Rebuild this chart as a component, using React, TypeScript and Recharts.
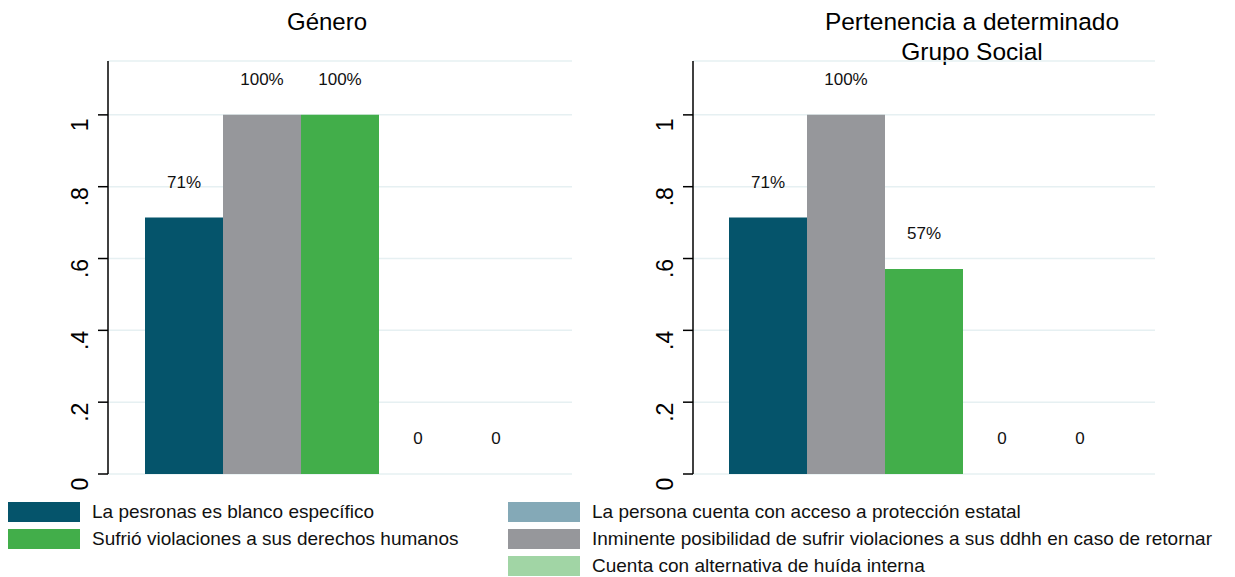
import { BarChart, Bar, XAxis, YAxis, CartesianGrid } from 'recharts'

const SERIES = [
  'La pesronas es blanco específico',
  'Inminente posibilidad de sufrir violaciones a sus ddhh en caso de retornar',
  'Sufrió violaciones a sus derechos humanos',
  'La persona cuenta con acceso a protección estatal',
  'Cuenta con alternativa de huída interna',
]
const COLORS = ['#05546b', '#96979b', '#42ae4a', '#84a9b7', '#a1d5a5']

const GENERO = [0.714, 1, 1, 0, 0]
const GRUPO_SOCIAL = [0.714, 1, 0.571, 0, 0]

const Y_TICKS = [0, 0.2, 0.4, 0.6, 0.8, 1]

// legend layout: [series index] per column
const LEGEND_LEFT = [0, 2]
const LEGEND_RIGHT = [3, 1, 4]

const FONT = '"Liberation Sans", Arial, Helvetica, sans-serif'

const toRow = (values: number[]) => {
  const row: Record<string, number | string> = { name: 'g' }
  values.forEach((v, i) => { row['s' + i] = v })
  return [row]
}

const fmtTick = (v: number) => (v === 0 ? '0' : v === 1 ? '1' : String(v).replace(/^0/, ''))
const fmtPct = (v: number) => (v === 0 ? '0' : `${Math.round(v * 100)}%`)

// stata draws the rotated labels a bit below the tick
const RotTick = (props: any) => {
  const { x, y, payload } = props
  const cx = x - 16
  const cy = y + 10
  return (
    <text x={cx} y={cy} transform={`rotate(-90 ${cx} ${cy})`} textAnchor="middle"
      dominantBaseline="central" fontSize={23} fill="#000" fontFamily={FONT}>
      {fmtTick(payload.value)}
    </text>
  )
}

const renderLabel = (p: any) => {
  const { x, y, width, height, value } = p
  const top = Math.min(y, y + (height || 0))
  return (
    <text x={x + width / 2} y={top - 35} textAnchor="middle" dominantBaseline="central"
      fontSize={17} fill="#111" fontFamily={FONT}>
      {fmtPct(Number(value))}
    </text>
  )
}

function Panel({ values, width, yAxisWidth, right }: { values: number[]; width: number; yAxisWidth: number; right: number }) {
  return (
    <BarChart width={width} height={490} data={toRow(values)}
      margin={{ top: 61, right, left: 0, bottom: 16 }} barGap={0} barSize={78}>
      <CartesianGrid vertical={false} stroke="#e6f0f2" strokeWidth={1.5} />
      <XAxis dataKey="name" tick={false} tickLine={false} height={0}
        axisLine={{ stroke: '#000', strokeWidth: 1.5 }} />
      <YAxis domain={[0, 1.15]} ticks={Y_TICKS} width={yAxisWidth} tickSize={10}
        interval={0} allowDataOverflow tick={<RotTick />}
        axisLine={{ stroke: '#000', strokeWidth: 1.5 }} tickLine={{ stroke: '#000', strokeWidth: 1.5 }} />
      {SERIES.map((s, i) => (
        <Bar key={s} dataKey={'s' + i} name={s} fill={COLORS[i]} minPointSize={0.01}
          isAnimationActive={false} label={renderLabel} />
      ))}
    </BarChart>
  )
}

function LegendItem({ idx }: { idx: number }) {
  return (
    <div style={{ display: 'flex', alignItems: 'center', height: 27 }}>
      <span style={{ width: 72, height: 20, background: COLORS[idx], flexShrink: 0 }} />
      <span style={{ marginLeft: 12, fontSize: 19, whiteSpace: 'nowrap', color: '#111' }}>{SERIES[idx]}</span>
    </div>
  )
}

export default function App() {
  return (
    <div style={{ position: 'absolute', left: 0, top: 0, width: 1235, height: 577, background: '#fff', fontFamily: FONT }}>
      <div style={{ position: 'absolute', left: 227, width: 200, top: 7, textAlign: 'center', fontSize: 24, lineHeight: '30px' }}>
        Género
      </div>
      <div style={{ position: 'absolute', left: 772, width: 400, top: 7, textAlign: 'center', fontSize: 24.5, lineHeight: '30px' }}>
        Pertenencia a determinado<br />Grupo Social
      </div>
      <div style={{ position: 'absolute', left: 0, top: 0 }}>
        <Panel values={GENERO} width={600} yAxisWidth={108} right={28} />
      </div>
      <div style={{ position: 'absolute', left: 600, top: 0 }}>
        <Panel values={GRUPO_SOCIAL} width={580} yAxisWidth={93} right={25} />
      </div>
      <div style={{ position: 'absolute', left: 8, top: 498 }}>
        {LEGEND_LEFT.map(i => <LegendItem key={i} idx={i} />)}
      </div>
      <div style={{ position: 'absolute', left: 508, top: 498 }}>
        {LEGEND_RIGHT.map(i => <LegendItem key={i} idx={i} />)}
      </div>
    </div>
  )
}
